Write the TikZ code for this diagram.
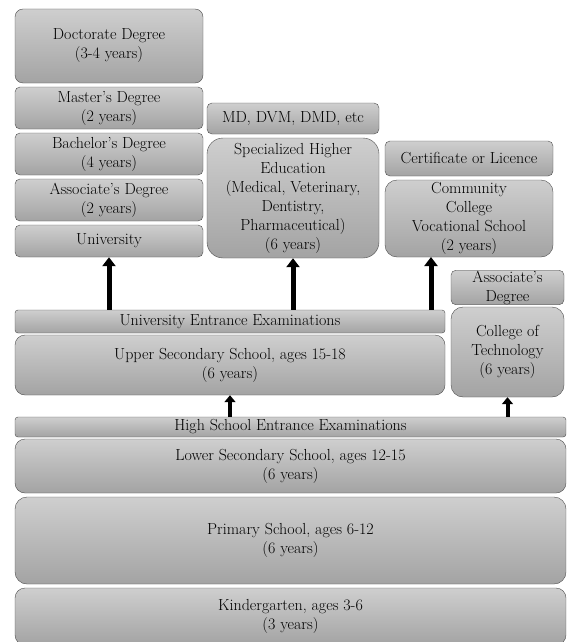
\documentclass[tikz,border=0pt]{standalone}
\usepackage{tikz}
\usetikzlibrary{arrows.meta}

\begin{document}
\begin{tikzpicture}
        [x=1pt, y=-1pt,
        box/.style={rectangle, rounded corners=5pt, draw=gray!60!black, thin,
          top color=gray!38, bottom color=gray!72, align=center, inner sep=0.5pt,
          text=black, font=\fontsize{16}{19}\selectfont},
        bigarr/.style={-{Triangle[width=13pt,length=9pt]}, line width=5pt},
        smallarr/.style={-{Triangle[width=11pt,length=7pt]}, line width=4pt}]
        \useasboundingbox (0,0) rectangle (567,642);
        % higher education
        \node (doct) at (109,46) [box, minimum width=188pt, minimum height=74pt, rounded corners=8pt] {Doctorate Degree\\(3-4 years)};
        \node (mast) at (109,108) [box, minimum width=188pt, minimum height=42pt] {Master's Degree\\(2 years)};
        \node (bach) at (109,154) [box, minimum width=188pt, minimum height=42pt] {Bachelor's Degree\\(4 years)};
        \node (asso) at (109,200) [box, minimum width=188pt, minimum height=42pt] {Associate's Degree\\(2 years)};
        \node (univ) at (109,241) [box, minimum width=188pt, minimum height=32pt] {University};
        \node (md) at (293,118.5) [box, minimum width=172pt, minimum height=31pt] {MD, DVM, DMD, etc};
        \node (spec) at (293,198) [box, minimum width=172pt, minimum height=120pt, rounded corners=16pt] {Specialized Higher\\Education\\(Medical, Veterinary,\\Dentistry,\\Pharmaceutical)\\(6 years)};
        \node (cert) at (469,158.5) [box, minimum width=168pt, minimum height=35pt] {Certificate or Licence};
        \node (comm) at (469,218.5) [box, minimum width=168pt, minimum height=77pt, rounded corners=12pt] {Community\\College\\Vocational School\\(2 years)};
        \node (asso2) at (507.5,287.5) [box, minimum width=113pt, minimum height=33pt] {Associate's\\Degree};
        \node (tech) at (507.5,352) [box, minimum width=113pt, minimum height=90pt, rounded corners=12pt] {College of\\Technology\\(6 years)};
        % secondary and below
        \node (uexam) at (230,321.5) [box, minimum width=430pt, minimum height=23pt, rounded corners=3pt] {University Entrance Examinations};
        \node (upper) at (230,365) [box, minimum width=430pt, minimum height=60pt, rounded corners=10pt] {Upper Secondary School, ages 15-18\\(6 years)};
        \node (hexam) at (290.5,427) [box, minimum width=551pt, minimum height=20pt, rounded corners=3pt] {High School Entrance Examinations};
        \node (lower) at (290.5,466) [box, minimum width=551pt, minimum height=54pt, rounded corners=10pt] {Lower Secondary School, ages 12-15\\(6 years)};
        \node (prim) at (290.5,540.5) [box, minimum width=551pt, minimum height=87pt, rounded corners=12pt] {Primary School, ages 6-12\\(6 years)};
        \node (kind) at (290.5,616.5) [box, minimum width=551pt, minimum height=57pt, rounded corners=10pt] {Kindergarten, ages 3-6\\(3 years)};
        % arrows
        \coordinate (voc) at (431,257);
        \draw[bigarr] (uexam.north -| univ.south) -- (univ.south);
        \draw[bigarr] (uexam.north -| spec.south) -- (spec.south);
        \draw[bigarr] (uexam.north -| voc) -- (voc);
        \draw[smallarr] (hexam.north -| upper.south) -- (upper.south);
        \draw[smallarr] (hexam.north -| tech.south) -- (tech.south);
\end{tikzpicture}
\end{document}
